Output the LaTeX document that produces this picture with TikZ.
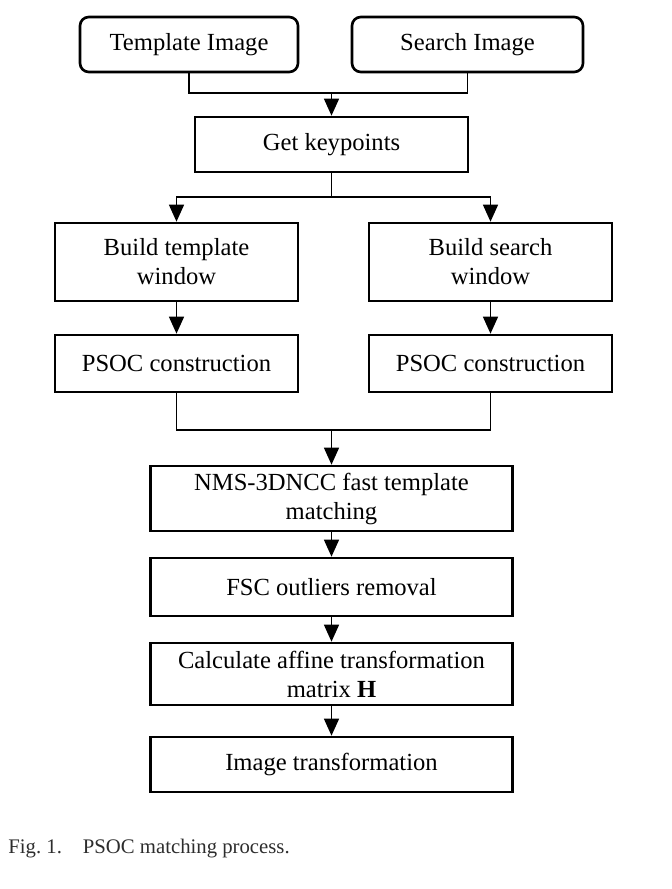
\documentclass[tikz,border=0pt]{standalone}
\usepackage{fontspec}
\setmainfont{Liberation Serif}
\usepackage{xcolor}
\usepackage{tikz}
\usetikzlibrary{arrows.meta, positioning}
\definecolor{capgray}{RGB}{45, 45, 45}

\begin{document}
\begin{tikzpicture}[
    box/.style={rectangle, draw=black, fill=white, line width=1.5pt, minimum width=4.86cm, minimum height=1.1cm, align=center, inner sep=2pt, font=\fontsize{14pt}{16.5pt}\selectfont},
    rbox/.style={box, rounded corners=5pt},
    line/.style={line width=0.8pt, color=black},
    arrow/.style={line, -{Triangle[length=0.34cm, width=0.3cm]}},
    caption/.style={anchor=west, inner sep=0pt, text=capgray, font=\fontsize{11.8pt}{14pt}\selectfont}
]
    \useasboundingbox (0, 0) rectangle (13.42, -17.78);

    \node[rbox, minimum width=4.36cm] (tpl) at (3.78, -0.89) {Template Image};
    \node[rbox, minimum width=4.62cm] (srch) at (9.35, -0.89) {Search Image};
    \node[box, minimum width=5.46cm] (kp) at (6.63, -2.89) {Get keypoints};
    \node[box, minimum height=1.56cm] (btw) at (3.53, -5.24) {Build template\\window};
    \node[box, minimum height=1.56cm] (bsw) at (9.81, -5.24) {Build search\\window};
    \node[box, minimum height=1.14cm] (psoct) at (3.53, -7.27) {PSOC construction};
    \node[box, minimum height=1.14cm] (psocs) at (9.81, -7.27) {PSOC construction};
    \node[box, minimum width=7.24cm, minimum height=1.3cm] (nms) at (6.63, -9.97) {NMS-3DNCC fast template\\matching};
    \node[box, minimum width=7.24cm, minimum height=1.16cm] (fsc) at (6.63, -11.74) {FSC outliers removal};
    \node[box, minimum width=7.24cm, minimum height=1.24cm] (calc) at (6.63, -13.48) {Calculate affine transformation\\matrix \textbf{H}};
    \node[box, minimum width=7.24cm] (imgt) at (6.63, -15.29) {Image transformation};
    \node[caption] (cap) at (0.16, -16.98) {Fig.~1.\hspace{0.42cm}PSOC matching process.};

    \coordinate (jin) at (6.63, -1.86);
    \coordinate (jsplit) at (6.63, -3.94);
    \coordinate (jout) at (6.63, -8.6);

    \draw[line] (tpl) |- (jin);
    \draw[line] (srch) |- (jin);
    \draw[arrow] (jin) -- (kp);
    \draw[line] (kp) -- (jsplit);
    \draw[arrow] (jsplit) -| (btw);
    \draw[arrow] (jsplit) -| (bsw);
    \draw[arrow] (btw) -- (psoct);
    \draw[arrow] (bsw) -- (psocs);
    \draw[line] (psoct) |- (jout);
    \draw[line] (psocs) |- (jout);
    \draw[arrow] (jout) -- (nms);
    \draw[arrow] (nms) -- (fsc);
    \draw[arrow] (fsc) -- (calc);
    \draw[arrow] (calc) -- (imgt);
\end{tikzpicture}
\end{document}
